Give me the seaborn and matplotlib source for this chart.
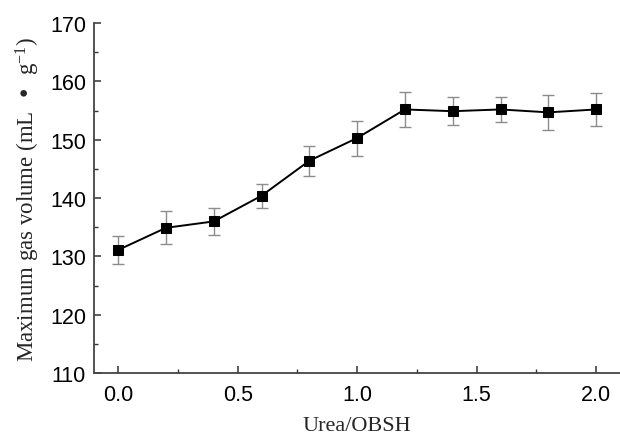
import pandas as pd
import numpy as np
import seaborn as sns
import matplotlib.pyplot as plt
from matplotlib.ticker import MultipleLocator

# values
ratio = [0.0, 0.2, 0.4, 0.6, 0.8, 1.0, 1.2, 1.4, 1.6, 1.8, 2.0]
gas_volume = [131.1, 134.9, 136.0, 140.4, 146.4, 150.3, 155.2, 154.9, 155.2, 154.7, 155.2]
gas_err = [2.4, 2.8, 2.3, 2.1, 2.6, 3.0, 3.0, 2.4, 2.1, 3.0, 2.8]

df = pd.DataFrame({'ratio': ratio, 'vol': gas_volume, 'err': gas_err})

sns.set_style('ticks')
plt.rcParams['font.family'] = ['Liberation Sans', 'DejaVu Sans']
plt.rcParams['mathtext.default'] = 'regular'

fig = plt.figure(figsize=(6.2, 4.39), dpi=100)
ax = fig.add_axes([0.152, 0.148, 0.848, 0.797])

ax.errorbar(df['ratio'], df['vol'], yerr=df['err'], fmt='none',
            ecolor='#8c8c8c', elinewidth=1.0, capsize=4, capthick=1.0, zorder=1)
sns.lineplot(data=df, x='ratio', y='vol', ax=ax, color='black', linewidth=1.4,
             marker='s', markersize=7, markeredgecolor='black', zorder=3)

ax.set_xlim(-0.1, 2.1)
ax.set_ylim(110, 170)
ax.xaxis.set_major_locator(MultipleLocator(0.5))
ax.xaxis.set_minor_locator(MultipleLocator(0.25))
ax.yaxis.set_major_locator(MultipleLocator(10))
ax.yaxis.set_minor_locator(MultipleLocator(5))
ax.set_xticks([0, 0.5, 1.0, 1.5, 2.0])
ax.set_xticklabels(['0.0', '0.5', '1.0', '1.5', '2.0'])

ax.tick_params(which='both', direction='in', colors='#333333', labelcolor='black',
               labelsize=15.5)
ax.tick_params(which='major', length=5, width=1.1)
ax.tick_params(axis='x', which='major', pad=8)
ax.tick_params(axis='y', which='major', pad=6)
ax.tick_params(which='minor', length=3, width=1.0)

for s in ['top', 'right']:
    ax.spines[s].set_visible(False)
for s in ['left', 'bottom']:
    ax.spines[s].set_color('#444444')
    ax.spines[s].set_linewidth(1.3)

ax.set_xlabel('Urea/OBSH', family='Liberation Serif', fontsize=16, labelpad=8)
ax.set_ylabel('Maximum gas volume (mL  •  g$^{-1}$)', family='Liberation Serif',
              fontsize=16.5, labelpad=6)

fig.savefig('out.png', dpi=100)
